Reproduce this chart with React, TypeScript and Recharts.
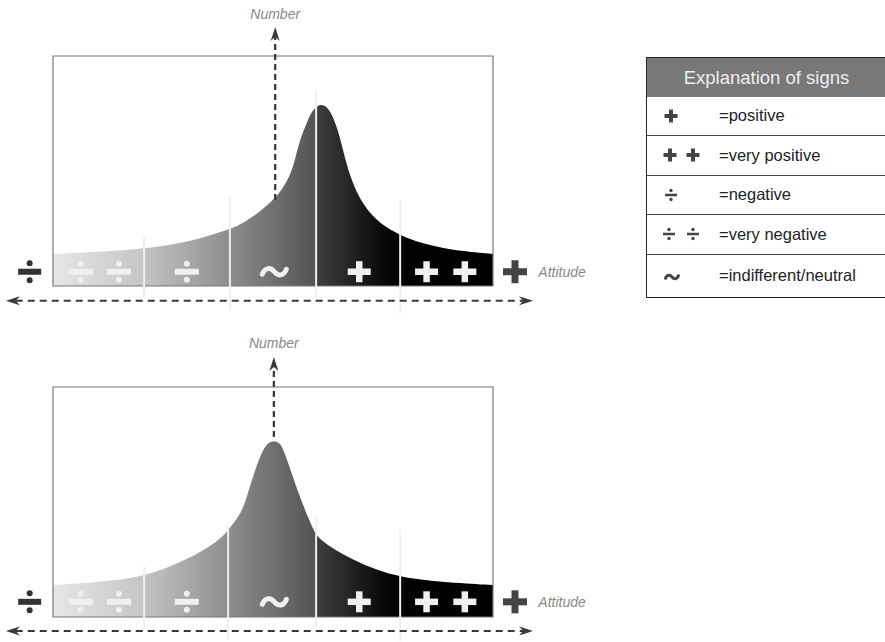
import React from 'react';
import { AreaChart, Area, XAxis, YAxis, ReferenceLine, ReferenceDot, ReferenceArea } from 'recharts';

const FONT = '"Liberation Sans", Arial, Helvetica, sans-serif';

// Attitude (0..100 across the box) and Number (0..100 up the box)
const topAttitude = [0, 10.7, 20.7, 31.1, 40.2, 42.5, 47.0, 50.0, 51.6, 53.9, 55.0, 56.1, 57.7, 58.9, 60.5, 61.6, 63.0, 64.8, 65.9, 67.5, 69.8, 72.7, 75.9, 78.9, 83.4, 90.2, 100];
const topNumber = [13.9, 14.8, 16.1, 19.1, 24.8, 26.5, 32.2, 37.4, 40.6, 47.8, 55.0, 63.5, 71.2, 76.4, 79.0, 78.6, 76.5, 67.8, 59.1, 47.4, 37.4, 30.0, 25.2, 22.2, 18.7, 15.7, 13.9];

const bottomAttitude = [0, 10.7, 20.7, 30.5, 38.0, 39.8, 42.9, 44.3, 45.9, 47.7, 48.9, 50.2, 51.6, 52.7, 54.5, 56.6, 58.9, 60.0, 63.0, 68.2, 73.6, 78.9, 88.0, 100];
const bottomNumber = [13.9, 15.2, 17.4, 24.8, 33.5, 37.8, 45.2, 53.9, 63.9, 72.8, 75.8, 76.8, 75.8, 71.3, 60.9, 49.6, 39.1, 34.8, 30.4, 24.8, 20.4, 17.4, 15.2, 13.9];

// Divider lines: x position and vertical extent
const topDividers = [
  { x: 20.7, from: -4.8, to: 21.7 },
  { x: 40.2, from: -10.4, to: 39.1 },
  { x: 59.8, from: -4.8, to: 84.8 },
  { x: 78.9, from: -11.7, to: 37.4 },
];
const bottomDividers = [
  { x: 20.7, from: -4.3, to: 22.2 },
  { x: 39.8, from: -10.0, to: 39.6 },
  { x: 59.8, from: -4.3, to: 43.9 },
  { x: 78.9, from: -10.4, to: 38.3 },
];

// Signs along the attitude scale
const innerSigns = [
  { x: 6.3, kind: 'div' },
  { x: 15.0, kind: 'div' },
  { x: 30.4, kind: 'div' },
  { x: 50.3, kind: 'tilde' },
  { x: 69.6, kind: 'plus' },
  { x: 84.9, kind: 'plus' },
  { x: 93.6, kind: 'plus' },
];
const outerSigns = [
  { x: -5.3, kind: 'div' },
  { x: 105.0, kind: 'plus' },
];

const topPeakX = 50.5;
const bottomPeakX = 50.2;

const legendItems = [
  { sign: 'plus', label: '=positive' },
  { sign: 'plus2', label: '=very positive' },
  { sign: 'div', label: '=negative' },
  { sign: 'div2', label: '=very negative' },
  { sign: 'tilde', label: '=indifferent/neutral' },
];
const legendRowHeights = [37.5, 40, 39, 40, 43];

function plusMark(cx: number, cy: number, w: number, h: number, t: number, color: string) {
  return (
    <g>
      <rect x={cx - w / 2} y={cy - t / 2} width={w} height={t} fill={color} />
      <rect x={cx - t / 2} y={cy - h / 2} width={t} height={h} fill={color} />
    </g>
  );
}
function divMark(cx: number, cy: number, w: number, t: number, off: number, r: number, color: string) {
  return (
    <g>
      <rect x={cx - w / 2} y={cy - t / 2} width={w} height={t} fill={color} />
      <circle cx={cx} cy={cy - off} r={r} fill={color} />
      <circle cx={cx} cy={cy + off} r={r} fill={color} />
    </g>
  );
}
function tildeMark(cx: number, cy: number, w: number, sw: number, color: string) {
  const h = w / 2;
  return (
    <path
      d={`M${cx - h},${cy + w * 0.1} C${cx - h * 0.75},${cy - w * 0.2} ${cx - h * 0.3},${cy - w * 0.18} ${cx},${cy} S${cx + h * 0.75},${cy + w * 0.2} ${cx + h},${cy - w * 0.1}`}
      fill="none"
      stroke={color}
      strokeWidth={sw}
      strokeLinecap="round"
    />
  );
}

function innerShape(kind: string) {
  return (p: any) => {
    const { cx, cy } = p;
    if (kind === 'div') return divMark(cx, cy, 24, 6, 8, 3, '#f0f0f0');
    if (kind === 'plus') return plusMark(cx, cy, 23, 21, 6.5, '#f0f0f0');
    return tildeMark(cx, cy, 24, 5, '#f0f0f0');
  };
}
function outerShape(kind: string) {
  return (p: any) => {
    const { cx, cy } = p;
    if (kind === 'div') return divMark(cx, cy, 23, 6, 8.5, 3, '#333');
    return plusMark(cx, cy, 24, 23, 7, '#444');
  };
}

function arrowShape(both: boolean, dash: string, sw: number) {
  return (p: any) => {
    const { x1, y1, x2, y2 } = p;
    const dx = x2 - x1;
    const dy = y2 - y1;
    const len = Math.hypot(dx, dy) || 1;
    const ux = dx / len;
    const uy = dy / len;
    const L = 14;
    const W = 4.5;
    const head = (tx: number, ty: number, vx: number, vy: number) => {
      const bx = tx - vx * L;
      const by = ty - vy * L;
      const nx = -vy;
      const ny = vx;
      const mx = tx - vx * L * 0.7;
      const my = ty - vy * L * 0.7;
      return `M${tx},${ty} L${bx + nx * W},${by + ny * W} L${mx},${my} L${bx - nx * W},${by - ny * W} Z`;
    };
    const sx = both ? x1 + ux * L * 0.7 : x1;
    const sy = both ? y1 + uy * L * 0.7 : y1;
    const ex = x2 - ux * L * 0.7;
    const ey = y2 - uy * L * 0.7;
    return (
      <g>
        <line x1={sx} y1={sy} x2={ex} y2={ey} stroke="#3a3a3a" strokeWidth={sw} strokeDasharray={dash} />
        <path d={head(x2, y2, ux, uy)} fill="#3a3a3a" />
        {both ? <path d={head(x1, y1, -ux, -uy)} fill="#3a3a3a" /> : null}
      </g>
    );
  };
}

function textShape(text: string, anchor: 'start' | 'middle') {
  return (p: any) => (
    <text
      x={p.cx}
      y={p.cy}
      textAnchor={anchor}
      dominantBaseline="central"
      fill="#888"
      fontStyle="italic"
      fontSize={14}
      fontFamily={FONT}
    >
      {text}
    </text>
  );
}

type PanelProps = {
  id: string;
  attitude: number[];
  number: number[];
  dividers: { x: number; from: number; to: number }[];
  peakX: number;
  arrowFrom: number;
  arrowTo: number;
  signY: number;
  axisY: number;
  labelY: number;
  height: number;
  margin: { top: number; right: number; bottom: number; left: number };
};

function Panel(props: PanelProps) {
  const data = props.attitude.map((a, i) => ({ a, n: props.number[i] }));
  const gid = `grad-${props.id}`;
  return (
    <AreaChart width={620} height={props.height} data={data} margin={props.margin}>
      <defs>
        <linearGradient id={gid} x1="0" y1="0" x2="1" y2="0">
          <stop offset="0%" stopColor="#e6e6e6" />
          <stop offset="20%" stopColor="#c6c6c6" />
          <stop offset="40%" stopColor="#8e8e8e" />
          <stop offset="59.5%" stopColor="#545454" />
          <stop offset="60%" stopColor="#3e3e3e" />
          <stop offset="77%" stopColor="#030303" />
          <stop offset="100%" stopColor="#000000" />
        </linearGradient>
      </defs>
      <XAxis type="number" dataKey="a" domain={[0, 100]} hide />
      <YAxis type="number" domain={[0, 100]} hide />
      <Area
        type="basis"
        dataKey="n"
        stroke="none"
        fill={`url(#${gid})`}
        fillOpacity={1}
        isAnimationActive={false}
        dot={false}
        activeDot={false}
      />
      <ReferenceArea x1={0} x2={100} y1={0} y2={100} fill="none" stroke="#777" strokeWidth={1.2} ifOverflow="visible" />
      {props.dividers.map((d, i) => (
        <ReferenceLine
          key={`d${i}`}
          segment={[{ x: d.x, y: d.from }, { x: d.x, y: d.to }]}
          stroke="#efefef"
          strokeWidth={2}
          ifOverflow="visible"
        />
      ))}
      <ReferenceLine
        segment={[{ x: props.peakX, y: props.arrowFrom }, { x: props.peakX, y: props.arrowTo }]}
        ifOverflow="visible"
        shape={arrowShape(false, '6 4', 2.3)}
      />
      <ReferenceLine
        segment={[{ x: -10.7, y: props.axisY }, { x: 109.1, y: props.axisY }]}
        ifOverflow="visible"
        shape={arrowShape(true, '7 5', 2)}
      />
      {innerSigns.map((s, i) => (
        <ReferenceDot key={`i${i}`} x={s.x} y={props.signY} ifOverflow="visible" shape={innerShape(s.kind)} />
      ))}
      {outerSigns.map((s, i) => (
        <ReferenceDot key={`o${i}`} x={s.x} y={props.signY} ifOverflow="visible" shape={outerShape(s.kind)} />
      ))}
      <ReferenceDot x={110.3} y={props.signY} ifOverflow="visible" shape={textShape('Attitude', 'start')} />
      <ReferenceDot x={props.peakX} y={props.labelY} ifOverflow="visible" shape={textShape('Number', 'middle')} />
    </AreaChart>
  );
}

function LegendSign({ sign }: { sign: string }) {
  const c = '#444';
  let body: React.ReactNode = null;
  if (sign === 'plus') body = plusMark(24, 12, 13, 13, 4, c);
  if (sign === 'plus2') body = <g>{plusMark(23, 12, 13, 13, 4, c)}{plusMark(46, 12, 13, 13, 4, c)}</g>;
  if (sign === 'div') body = divMark(24, 12, 12, 2.5, 4.5, 1.7, c);
  if (sign === 'div2') body = <g>{divMark(22, 12, 12, 2.5, 4.5, 1.7, c)}{divMark(46, 12, 12, 2.5, 4.5, 1.7, c)}</g>;
  if (sign === 'tilde') body = tildeMark(25, 13, 13, 3, c);
  return (
    <svg width={66} height={24} style={{ display: 'block' }}>
      {body}
    </svg>
  );
}

export default function App() {
  return (
    <div style={{ position: 'absolute', left: 0, top: 0, width: 885, height: 642, background: '#fff', overflow: 'hidden' }}>
      <div style={{ position: 'absolute', left: 0, top: 0 }}>
        <Panel
          id="top"
          attitude={topAttitude}
          number={topNumber}
          dividers={topDividers}
          peakX={topPeakX}
          arrowFrom={37.4}
          arrowTo={112.6}
          signY={6.2}
          axisY={-6.4}
          labelY={118.3}
          height={330}
          margin={{ top: 56, right: 127, bottom: 44, left: 53 }}
        />
      </div>
      <div style={{ position: 'absolute', left: 0, top: 330 }}>
        <Panel
          id="bottom"
          attitude={bottomAttitude}
          number={bottomNumber}
          dividers={bottomDividers}
          peakX={bottomPeakX}
          arrowFrom={78.3}
          arrowTo={113}
          signY={6.6}
          axisY={-6.1}
          labelY={119.1}
          height={312}
          margin={{ top: 57, right: 127, bottom: 25, left: 53 }}
        />
      </div>
      <div
        style={{
          position: 'absolute',
          left: 646,
          top: 57,
          width: 241,
          height: 241,
          border: '1.5px solid #222',
          boxSizing: 'border-box',
          fontFamily: FONT,
          background: '#fff',
        }}
      >
        <div
          style={{
            height: 39,
            background: '#787878',
            color: '#eeeeee',
            fontSize: 18.5,
            display: 'flex',
            alignItems: 'center',
            justifyContent: 'center',
          }}
        >
          Explanation of signs
        </div>
        {legendItems.map((it, i) => (
          <div
            key={it.label}
            style={{
              height: legendRowHeights[i],
              boxSizing: 'border-box',
              borderTop: i === 0 ? 'none' : '1.5px solid #444',
              display: 'flex',
              alignItems: 'center',
              fontSize: 16.5,
              color: '#222',
            }}
          >
            <div style={{ width: 72 }}>
              <LegendSign sign={it.sign} />
            </div>
            <div>{it.label}</div>
          </div>
        ))}
      </div>
    </div>
  );
}
